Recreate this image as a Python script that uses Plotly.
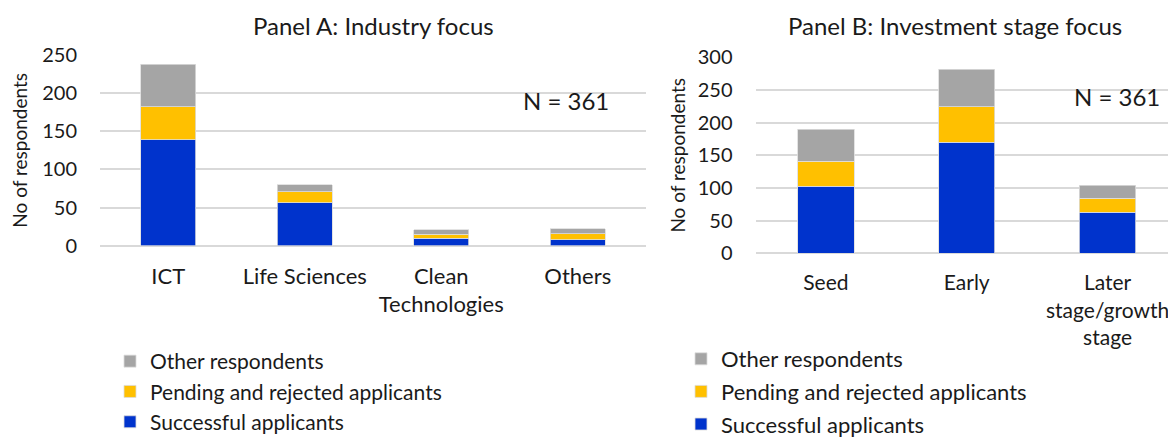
import plotly.graph_objects as go

# ---- data ----
industries = ["ICT", "Life Sciences", "Clean<br>Technologies", "Others"]
ind_successful = [139, 56, 10, 8]
ind_pending = [43, 15, 5, 8]
ind_other = [56, 9, 6, 6]

stages = ["Seed", "Early", "Later<br>stage/growth<br>stage"]
stg_successful = [103, 170, 63]
stg_pending = [38, 54, 21]
stg_other = [49, 58, 20]

series_names = ["Successful applicants", "Pending and rejected applicants", "Other respondents"]
colors = ["#0033CC", "#FFC000", "#A5A5A5"]

# page body has an 8px margin, so the figure is 8px smaller and coordinates shifted
OFF = 8
W, H = 1176 - OFF, 440 - OFF
FONT = "Lato"
TXT = "#1a1a1a"

def px_x(v):
    return (v - OFF) / W

def px_y(v):
    return 1 - (v - OFF) / H

fig = go.Figure()

a_vals = [ind_successful, ind_pending, ind_other]
b_vals = [stg_successful, stg_pending, stg_other]

for i in range(3):
    fig.add_trace(go.Bar(
        x=industries, y=a_vals[i], name=series_names[i],
        marker=dict(color=colors[i], line=dict(color="#dcdcdc", width=0.8)),
        width=0.4, xaxis="x", yaxis="y", legend="legend",
        legendgroup="a%d" % i, legendrank=10 - i,
    ))
for i in range(3):
    fig.add_trace(go.Bar(
        x=stages, y=b_vals[i], name=series_names[i],
        marker=dict(color=colors[i], line=dict(color="#dcdcdc", width=0.8)),
        width=0.4, xaxis="x2", yaxis="y2", legend="legend2",
        legendgroup="b%d" % i, legendrank=10 - i,
    ))

grid = "#d9d9d9"
common_x = dict(showgrid=False, zeroline=False, showline=False, ticks="",
                fixedrange=True, automargin=False, ticklabelstandoff=15)
common_y = dict(showgrid=True, gridcolor=grid, gridwidth=1.5, zeroline=True,
                zerolinecolor=grid, zerolinewidth=1.5, showline=False, ticks="",
                tickfont=dict(family=FONT, size=20, color=TXT),
                ticklabelstandoff=22, fixedrange=True, automargin=False)

fig.update_layout(
    width=W, height=H,
    margin=dict(l=0, r=0, t=0, b=0, autoexpand=False),
    paper_bgcolor="white", plot_bgcolor="white",
    barmode="stack", bargap=0.6,
    font=dict(family=FONT, color=TXT),
    xaxis=dict(domain=[px_x(100), px_x(646)], anchor="y", range=[-0.5, 3.5],
               tickfont=dict(family=FONT, size=22, color=TXT), **common_x),
    yaxis=dict(domain=[px_y(245.7), px_y(55)], anchor="x", range=[0, 250], dtick=50,
               title=dict(text="No of respondents", font=dict(family=FONT, size=19, color=TXT), standoff=13),
               **common_y),
    xaxis2=dict(domain=[px_x(755.5), 1.0], anchor="y2", range=[-0.5, 2.486],
                tickfont=dict(family=FONT, size=21, color=TXT), **common_x),
    yaxis2=dict(domain=[px_y(253.3), px_y(57.3)], anchor="x2", range=[0, 300], dtick=50,
                title=dict(text="No of respondents", font=dict(family=FONT, size=19, color=TXT), standoff=7),
                **common_y),
    legend=dict(x=px_x(110), y=px_y(341), xanchor="left", yanchor="top",
                traceorder="grouped", tracegroupgap=0, bgcolor="rgba(0,0,0,0)",
                font=dict(family=FONT, size=21, color=TXT), itemclick=False, itemdoubleclick=False),
    legend2=dict(x=px_x(681), y=px_y(338), xanchor="left", yanchor="top",
                 traceorder="grouped", tracegroupgap=1, bgcolor="rgba(0,0,0,0)",
                 font=dict(family=FONT, size=22, color=TXT), itemclick=False, itemdoubleclick=False),
    showlegend=True,
)

# white boxes behind N = 361 labels (interrupt gridlines)
fig.add_shape(type="rect", xref="paper", yref="paper",
              x0=px_x(487), x1=px_x(660), y0=px_y(120), y1=px_y(75),
              fillcolor="white", line=dict(width=0), layer="between")
fig.add_shape(type="rect", xref="paper", yref="paper",
              x0=px_x(1043), x1=1.0, y0=px_y(118), y1=px_y(76),
              fillcolor="white", line=dict(width=0), layer="between")

ann_font = dict(family=FONT, size=24, color=TXT)
fig.add_annotation(text="N = 361", xref="paper", yref="paper", x=px_x(566), y=px_y(100),
                   xanchor="center", yanchor="middle", showarrow=False, font=ann_font)
fig.add_annotation(text="N = 361", xref="paper", yref="paper", x=px_x(1117), y=px_y(97),
                   xanchor="center", yanchor="middle", showarrow=False, font=ann_font)

title_font = dict(family=FONT, size=24, color=TXT)
fig.add_annotation(text="Panel A: Industry focus", xref="paper", yref="paper",
                   x=px_x(373), y=px_y(25), xanchor="center", yanchor="middle",
                   showarrow=False, font=title_font, borderpad=0)
fig.add_annotation(text="Panel B: Investment stage focus", xref="paper", yref="paper",
                   x=px_x(955), y=px_y(25), xanchor="center", yanchor="middle",
                   showarrow=False, font=title_font, borderpad=0)

fig.write_html("out.html")
